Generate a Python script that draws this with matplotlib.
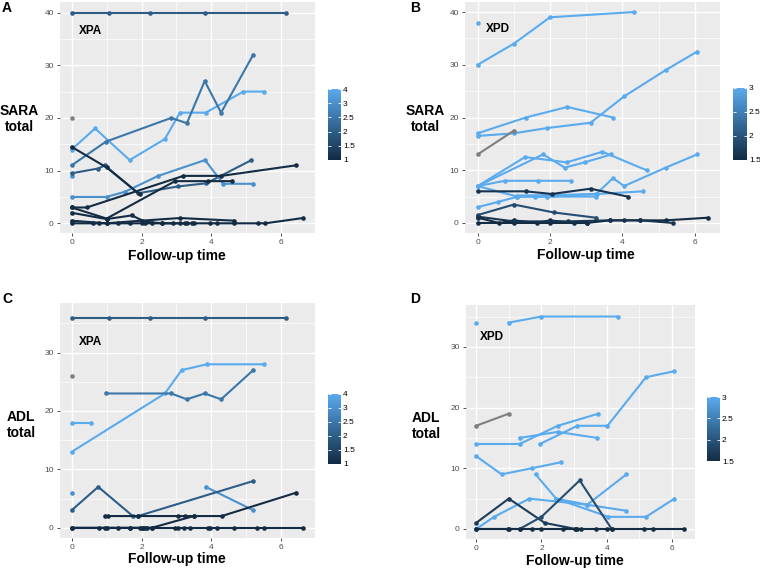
import numpy as np
import matplotlib
matplotlib.use("Agg")
import matplotlib.pyplot as plt
from matplotlib.colors import LinearSegmentedColormap, Normalize
from matplotlib.cm import ScalarMappable
from matplotlib.ticker import MultipleLocator

plt.rcParams['font.family'] = ['Liberation Sans', 'DejaVu Sans']

# ---- data: one entry per patient (times, scores, colour level; None = NA) ----
# Panel A: XPA, SARA total
a_times = [[0, 1.08, 2.24, 3.81, 6.14], [0],
           [0, 0.67, 1.66, 2.67, 3.1, 3.84, 4.92, 5.52],
           [0, 0.98, 2.85, 3.3, 3.81, 4.28, 5.2], [0],
           [0, 0.76, 0.95, 1.9, 3.05, 3.86, 5.15],
           [0, 1.0, 1.53, 2.48, 3.82, 4.34, 5.2],
           [0, 1.0, 1.95], [0, 0.43, 3.2, 4.29, 6.42],
           [0, 1.0, 2.96, 3.9, 4.6], [0, 1.0, 1.72, 2.1, 2.6, 3.3],
           [0, 1.0, 2.0, 3.1, 4.65],
           [0, 0.6, 0.77, 1.0, 1.33, 1.68, 2.0, 2.1, 2.3, 2.6, 2.9, 3.1, 3.25,
            3.45, 3.5, 3.95, 4.15, 4.65, 5.35, 5.55, 6.62]]
a_scores = [[40, 40, 40, 40, 40], [20],
            [14, 18, 12, 16, 21, 21, 25, 25],
            [11, 15.5, 20, 19, 27, 21, 32], [9],
            [9.5, 10.4, 11, 5.7, 7, 7.6, 12],
            [5, 5, 6, 9, 12, 7.5, 7.5],
            [14.5, 10.6, 5.5], [3, 3, 9, 9, 11],
            [3, 0.9, 8, 8, 8], [2, 0.8, 1.5, 0.3, 0, 0],
            [0.5, 0, 0.5, 1, 0.5],
            [0] * 20 + [1]]
a_level = [2, None, 4, 2.5, 3, 2, 3, 1, 1, 1, 1, 1, 1]

# Panel B: XPD, SARA total
b_times = [[0], [0, 1.0, 2.0, 4.33], [0, 1.0, 1.92, 3.12, 4.05, 5.2, 6.07],
           [0, 1.33, 2.48, 3.74], [0, 1.0],
           [0, 1.31, 2.46, 3.45, 4.67], [0, 1.81, 2.41, 2.96, 3.7],
           [0, 0.75, 1.68, 2.57], [0, 1.1, 3.28],
           [0, 0.57, 1.1, 1.59, 1.92, 3.28, 3.74, 4.05, 5.2, 6.07],
           [1.1, 2.1, 3.3, 4.57],
           [0, 1.33, 2.05, 3.12, 4.15], [0, 1.0, 2.1, 3.27],
           [0, 0.6, 1.0, 1.65, 2.0, 2.65, 3.02],
           [0, 1.0, 2.0, 3.02, 3.65, 4.05, 4.5, 5.2, 6.37],
           [0, 1.0, 2.5, 3.65, 4.5, 5.4]]
b_scores = [[38], [30, 34, 39, 40], [16.5, 17, 18, 19, 24, 29, 32.5],
            [17, 20, 22, 20], [13, 17.5],
            [7, 12.5, 11.5, 13.5, 10], [7, 13, 10.5, 11.5, 13],
            [7, 8, 8, 8], [7, 5, 5],
            [3, 4, 5, 5, 5, 5.5, 8.5, 7, 10.5, 13],
            [5.2, 5.3, 5.5, 6],
            [6, 6, 5.5, 6.5, 5], [1.5, 3.5, 2, 1],
            [1, 0, 0.5, 0, 0.5, 0, 0],
            [0, 0, 0, 0, 0.5, 0.5, 0.5, 0.5, 1],
            [1.2, 0.3, 0.3, 0.5, 0.5, 0]]
b_level = [3, 3, 3, 3, None, 3, 3, 3, 3, 3, 3, 1.6, 1.9, 1.5, 1.5, 1.6]

# Panel C: XPA, ADL total
c_times = [[0, 1.08, 2.24, 3.81, 6.14], [0], [0, 0.55],
           [0, 2.67, 3.15, 3.87, 5.52],
           [0.98, 2.85, 3.3, 3.81, 4.28, 5.2], [0], [3.84, 5.2],
           [0, 0.76, 1.75, 1.9, 5.2],
           [0.95, 1.05, 1.9, 3.05, 3.25, 3.5, 4.3, 6.43],
           [0, 0.77, 1.68, 2.1, 2.3, 3.5],
           [0, 0.95, 1.0, 1.33, 1.68, 1.95, 2.0, 2.05, 2.15, 2.3, 2.97, 3.05,
            3.22, 3.4, 3.9, 3.95, 4.15, 4.65, 5.32, 5.52, 6.62]]
c_scores = [[36, 36, 36, 36, 36], [26], [18, 18],
            [13, 23, 27, 28, 28],
            [23, 23, 22, 23, 22, 27], [6], [7, 3],
            [3, 7, 2, 2, 8],
            [2, 2, 2, 2, 2, 2, 2, 6],
            [0, 0, 0, 0, 0, 2],
            [0] * 21]
c_level = [2, None, 4, 4, 2.5, 3, 3, 2, 1, 1, 1]

# Panel D: XPD, ADL total
d_times = [[0], [1.0, 2.0, 4.35], [0, 1.0],
           [0, 1.33, 2.5, 3.74], [1.33, 2.5, 3.7],
           [1.95, 3.1, 4.02, 5.2, 6.07], [0, 0.78, 1.7, 2.6],
           [1.82, 2.45, 4.05, 5.2, 6.07], [0, 0.55, 1.63, 3.4, 4.6],
           [2.45, 3.4, 4.6],
           [0, 1.0, 2.1, 3.05], [0, 1.33, 2.0, 3.17, 4.15],
           [0, 0.97, 1.0, 1.33, 1.7, 2.0, 2.67, 3.02, 3.1, 3.22, 3.66, 4.02,
            4.15, 5.15, 5.41, 6.37]]
d_scores = [[34], [34, 35, 35], [17, 19],
            [14, 14, 17, 19], [15, 16, 15],
            [14, 17, 17, 25, 26], [12, 9, 10, 11],
            [9, 5, 2, 2, 5], [0, 2, 5, 4, 3],
            [5, 4, 9],
            [1, 5, 1, 0], [0, 0, 2, 8, 0],
            [0] * 16]
d_level = [3, 3, None, 3, 3, 3, 3, 3, 3, 3, 1.7, 1.9, 1.5]

xpa_ticks = [1, 1.5, 2, 2.5, 3, 4]
xpd_ticks = [1.5, 2, 2.5, 3]

# ---- styling ----
cmap = LinearSegmentedColormap.from_list("gg", ["#132B43", "#336A98", "#5AAAEE"])
na_col = "#7F7F7F"


def level_frac(v, ticks):
    return np.interp(v, ticks, np.linspace(0, 1, len(ticks)))


def panel(ax, times, scores, levels, ticks, xlim, ylim, ymaj, tag, tagpos):
    ax.set_facecolor("#EBEBEB")
    for s in ax.spines.values():
        s.set_visible(False)
    ax.xaxis.set_major_locator(MultipleLocator(2))
    ax.xaxis.set_minor_locator(MultipleLocator(1))
    ax.yaxis.set_major_locator(MultipleLocator(ymaj))
    ax.yaxis.set_minor_locator(MultipleLocator(ymaj / 2))
    ax.grid(which="major", color="white", lw=1.0)
    ax.grid(which="minor", color="white", lw=0.5)
    ax.set_axisbelow(True)
    ax.tick_params(which="major", length=2.5, width=0.6, color="#333333",
                   labelsize=6, labelcolor="#4D4D4D", pad=2)
    ax.tick_params(which="minor", length=0)
    for t, s, lv in zip(times, scores, levels):
        col = na_col if lv is None else cmap(level_frac(lv, ticks))
        ax.plot(t, s, "-o", color=col, lw=1.5, ms=3.3, mew=0)
    ax.set_xlim(*xlim)
    ax.set_ylim(*ylim)
    ax.text(tagpos[0], tagpos[1], tag, fontsize=8.5, fontweight="bold",
            ha="left", va="center")


def colorbar(fig, rect, ticks):
    cax = fig.add_axes(rect)
    sm = ScalarMappable(norm=Normalize(0, 1), cmap=cmap)
    cb = fig.colorbar(sm, cax=cax)
    cb.outline.set_visible(False)
    cb.set_ticks(np.linspace(0, 1, len(ticks)))
    cb.set_ticklabels([f"{v:g}" for v in ticks])
    cax.tick_params(direction="in", color="white", length=2.5, width=0.6,
                    labelsize=6, pad=1.5, left=True)


fig = plt.figure(figsize=(7.6, 5.69), dpi=100)
W, H = 760, 569


def rect(x0, y0, x1, y1):
    return [x0 / W, 1 - y1 / H, (x1 - x0) / W, (y1 - y0) / H]


axA = fig.add_axes(rect(60, 2, 315, 233))
panel(axA, a_times, a_scores, a_level, xpa_ticks, (-0.335, 6.97), (-1.84, 42),
      10, "XPA", (0.2, 36.5))
axB = fig.add_axes(rect(465, 2, 720, 233))
panel(axB, b_times, b_scores, b_level, xpd_ticks, (-0.35, 6.7), (-1.9, 41.9),
      10, "XPD", (0.23, 36.7))
axC = fig.add_axes(rect(60, 303, 315, 538))
panel(axC, c_times, c_scores, c_level, xpa_ticks, (-0.335, 6.97), (-1.76, 38.5),
      10, "XPA", (0.2, 31.8))
axD = fig.add_axes(rect(466, 305, 695, 539))
panel(axD, d_times, d_scores, d_level, xpd_ticks, (-0.31, 6.7), (-1.65, 36.9),
      10, "XPD", (0.12, 31.6))

colorbar(fig, rect(328, 89, 341, 160), xpa_ticks)
colorbar(fig, rect(733, 88, 747, 160), xpd_ticks)
colorbar(fig, rect(328, 394, 341, 464), xpa_ticks)
colorbar(fig, rect(707, 397, 720, 461), xpd_ticks)

# panel letters and axis titles
for lab, x, y in [("A", 2, 8), ("B", 410, 8), ("C", 2, 299), ("D", 410, 299)]:
    fig.text(x / W, 1 - y / H, lab, fontsize=10, fontweight="bold",
             ha="left", va="center")
for lab, x, y in [("SARA\ntotal", 19, 119), ("SARA\ntotal", 425, 119),
                  ("ADL\ntotal", 21, 425), ("ADL\ntotal", 426, 426)]:
    fig.text(x / W, 1 - y / H, lab, fontsize=10, fontweight="bold",
             ha="center", va="center", linespacing=1.15)
for x, y in [(177, 256), (586, 255), (177, 559), (575, 561)]:
    fig.text(x / W, 1 - y / H, "Follow-up time", fontsize=10,
             fontweight="bold", ha="center", va="center")

fig.savefig("out.png", dpi=100)
